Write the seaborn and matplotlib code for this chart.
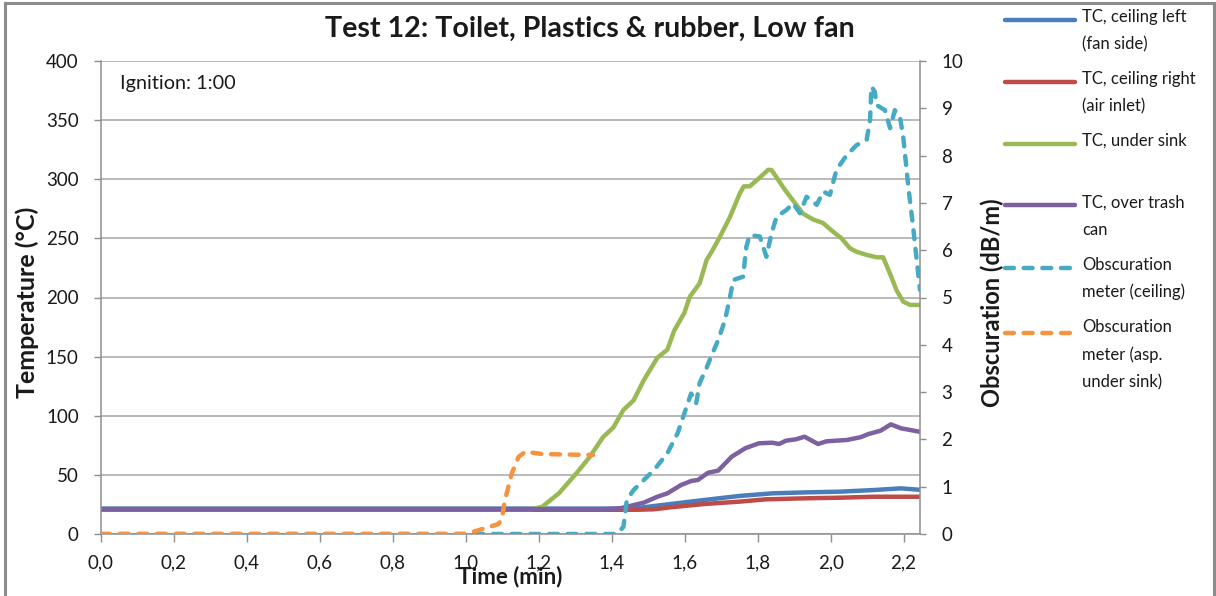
import numpy as np
import pandas as pd
import matplotlib
matplotlib.use("Agg")
import matplotlib.pyplot as plt
import seaborn as sns
from matplotlib.legend_handler import HandlerLine2D
from matplotlib.patches import Rectangle
from matplotlib.ticker import FuncFormatter

# ---------------- data (time in minutes) ----------------
t_ceil_left = [0.0, 1.0, 1.40, 1.4692, 1.5620, 1.6547, 1.7475, 1.8402, 1.9330, 2.0258, 2.1185, 2.1927, 2.2437]
T_ceil_left = [21.5, 21.5, 21.5, 21.9, 25.4, 28.8, 32.1, 34.4, 35.2, 35.8, 37.2, 38.6, 37.4]

t_ceil_right = [0.0, 1.0, 1.42, 1.4692, 1.5156, 1.5620, 1.6547, 1.7475, 1.8217, 1.9330, 2.0258, 2.1185, 2.2437]
T_ceil_right = [20.5, 20.5, 20.5, 20.5, 20.9, 22.6, 25.4, 27.3, 29.3, 30.2, 30.7, 31.5, 31.5]

t_sink = [0.0, 1.0, 1.18, 1.2095, 1.2558, 1.3022, 1.3393, 1.3764, 1.4043, 1.4321, 1.4599,
          1.4877, 1.5249, 1.5527, 1.5712, 1.5991, 1.614, 1.641, 1.66, 1.674, 1.696, 1.724,
          1.751, 1.762, 1.778, 1.797, 1.829, 1.838, 1.875, 1.897, 1.924, 1.952, 1.979,
          2.007, 2.03, 2.053, 2.071, 2.099, 2.126, 2.144, 2.163, 2.181, 2.199, 2.218, 2.245]
T_sink = [21, 21, 21, 23, 34.6, 51, 65, 82, 90, 105, 113,
          130, 149, 156, 172, 187, 200.7, 212, 231.7, 238.7, 251, 268,
          288, 294, 294, 299, 308, 307.8, 291, 282, 271, 266, 263,
          255.6, 250, 241.6, 238.7, 236, 234, 234, 220, 206, 196.5, 193.7, 193.7]

t_trash = [0.0, 1.0, 1.38, 1.4228, 1.4877, 1.5249, 1.5527, 1.5898, 1.6176, 1.6362, 1.6640,
           1.6918, 1.7289, 1.7660, 1.8031, 1.8402, 1.8588, 1.8773, 1.9052, 1.9284, 1.9655,
           1.9886, 2.0443, 2.0814, 2.1046, 2.1371, 2.1649, 2.1927, 2.2437]
T_trash = [21, 21, 21, 21.7, 26.5, 31.5, 34.4, 41.4, 44.8, 45.7, 51.8,
           53.6, 65.4, 72.5, 76.7, 77.2, 76.1, 78.9, 80.1, 82.3, 76.1,
           78.4, 79.5, 81.8, 84.6, 87.4, 92.7, 89.4, 86.5]

t_obs_ceil = [0.0, 1.0, 1.4135, 1.4321, 1.4414, 1.4599, 1.4877, 1.5156, 1.5527, 1.5806, 1.5991,
              1.6176, 1.6315, 1.6408, 1.6594, 1.6686, 1.6918, 1.7104, 1.724, 1.733, 1.76,
              1.769, 1.778, 1.806, 1.824, 1.838, 1.852, 1.879, 1.897, 1.916, 1.934, 1.962,
              1.98, 1.998, 2.016, 2.044, 2.071, 2.099, 2.108, 2.112, 2.121, 2.126, 2.149,
              2.163, 2.176, 2.19, 2.199, 2.213, 2.226, 2.236, 2.245]
O_obs_ceil = [0.0, 0.0, 0.0, 0.15, 0.72, 0.93, 1.14, 1.35, 1.71, 2.13, 2.55,
              2.97, 2.76, 3.19, 3.5, 3.68, 4.1, 4.52, 5.0, 5.37, 5.44,
              6.07, 6.32, 6.29, 5.86, 6.36, 6.71, 6.85, 6.99, 6.78, 7.13, 6.96,
              7.24, 7.17, 7.70, 8.01, 8.22, 8.34, 8.75, 9.46, 9.35, 9.07, 8.96,
              8.58, 8.96, 8.82, 8.40, 7.34, 6.5, 5.79, 5.16]

t_obs_sink = [0.0, 1.0, 1.0518, 1.0889, 1.0982, 1.1074, 1.1260, 1.1445, 1.1631, 1.2095, 1.3486]
O_obs_sink = [0.0, 0.0, 0.12, 0.21, 0.3, 0.72, 1.28, 1.63, 1.74, 1.69, 1.67]

labels = ["TC, ceiling left\n(fan side)", "TC, ceiling right\n(air inlet)", "TC, under sink\n ",
          "TC, over trash\ncan", "Obscuration\nmeter (ceiling)", "Obscuration\nmeter (asp.\nunder sink)"]
colors = ["#4A7EBB", "#BE4B48", "#98B954", "#7D60A0", "#46AAC5", "#F69240"]

title = "Test 12: Toilet, Plastics & rubber, Low fan"
x_ticks = [0.0, 0.2, 0.4, 0.6, 0.8, 1.0, 1.2, 1.4, 1.6, 1.8, 2.0, 2.2]
y_ticks = [0, 50, 100, 150, 200, 250, 300, 350, 400]
y2_ticks = [0, 1, 2, 3, 4, 5, 6, 7, 8, 9, 10]

# ---------------- style ----------------
sns.set_style("white")
plt.rcParams['font.family'] = ['Lato', 'DejaVu Sans']
TXT = "#1a1a1a"
GRAY = "#8E8E8E"

fig = plt.figure(figsize=(12.16, 5.96), dpi=100)
W, H = 1216, 596
ax = fig.add_axes([101 / W, 62 / H, 819 / W, 473 / H])
ax2 = ax.twinx()

LW = 3.2
temp_series = [(t_ceil_left, T_ceil_left), (t_ceil_right, T_ceil_right),
               (t_sink, T_sink), (t_trash, T_trash)]
for i, (tx, ty) in enumerate(temp_series):
    sns.lineplot(x=tx, y=ty, ax=ax, color=colors[i], lw=LW, sort=False,
                 estimator=None, legend=False, solid_capstyle="round", solid_joinstyle="round")

obs_series = [(t_obs_ceil, O_obs_ceil), (t_obs_sink, O_obs_sink)]
for j, (tx, ty) in enumerate(obs_series):
    sns.lineplot(x=tx, y=ty, ax=ax2, color=colors[4 + j], lw=LW, sort=False,
                 estimator=None, legend=False, linestyle=(0, (2.0, 2.2)),
                 dash_capstyle="round", dash_joinstyle="round")

# ---------------- axes ----------------
ax.set_xlim(0, 2.245)
ax.set_ylim(0, 400)
ax2.set_ylim(0, 10)
ax.set_xticks(x_ticks)
ax.set_yticks(y_ticks)
ax2.set_yticks(y2_ticks)
ax.xaxis.set_major_formatter(FuncFormatter(lambda v, p: f"{v:.1f}".replace(".", ",")))

ax.yaxis.grid(True, color="#A5A5A5", lw=1.1)
ax.xaxis.grid(False)
ax2.grid(False)
ax.set_axisbelow(True)

for s in ["left", "bottom", "right"]:
    ax.spines[s].set_color(GRAY)
    ax.spines[s].set_linewidth(1.1)
ax.spines["top"].set_visible(False)
ax.spines["right"].set_visible(False)
for s in ["left", "bottom", "top"]:
    ax2.spines[s].set_visible(False)
ax2.spines["right"].set_visible(True)
ax2.spines["right"].set_color(GRAY)
ax2.spines["right"].set_linewidth(1.1)

ax.tick_params(axis="y", left=True, direction="out", length=5, width=1, color=GRAY,
               pad=11, labelsize=13.5, labelcolor=TXT)
ax.tick_params(axis="x", bottom=True, direction="out", length=5.5, width=1, color=GRAY,
               pad=9, labelsize=13.5, labelcolor=TXT)
ax2.tick_params(axis="y", right=True, direction="out", length=4.5, width=1, color=GRAY,
                pad=11, labelsize=13.5, labelcolor=TXT)

ax.set_ylabel("Temperature (°C)", fontsize=18, fontweight="bold", color=TXT)
ax.yaxis.set_label_coords((39 - 101) / 819, 0.49)
ax2.set_ylabel("Obscuration (dB/m)", fontsize=17, fontweight="bold", color=TXT)
ax2.yaxis.set_label_coords((981 - 101) / 819, 0.49)
ax.set_xlabel("Time (min)", fontsize=16, fontweight="bold", color=TXT)
ax.xaxis.set_label_coords(0.5, (534 - 566) / 473)

ax.text((120 - 101) / 819, (534 - 83) / 473, "Ignition: 1:00", transform=ax.transAxes,
        fontsize=14.3, color=TXT, ha="left", va="center")

fig.text(590 / W, 1 - 29 / H, title, fontsize=20.6, fontweight="bold", color=TXT,
         ha="center", va="center")

# ---------------- legend ----------------
PITCH_PT = 23 * 72 / 100


class FirstLineHandler(HandlerLine2D):
    def __init__(self, shift_pt, **kw):
        super().__init__(**kw)
        self.shift_pt = shift_pt

    def create_artists(self, legend, orig_handle, xdescent, ydescent, width, height,
                       fontsize, trans):
        arts = super().create_artists(legend, orig_handle, xdescent, ydescent, width,
                                      height, fontsize, trans)
        for a in arts:
            a.set_ydata(np.asarray(a.get_ydata(), dtype=float) + self.shift_pt)
        return arts


handles = list(ax.lines) + list(ax2.lines)
hmap = {h: FirstLineHandler((lab.count("\n")) / 2 * PITCH_PT) for h, lab in zip(handles, labels)}
leg = fig.legend(handles, labels, loc="upper left",
                 bbox_to_anchor=(1005 / W, 1 - 9 / H), bbox_transform=fig.transFigure,
                 frameon=False, fontsize=12, handlelength=4.2, handletextpad=0.45,
                 labelspacing=1.14, borderpad=0, borderaxespad=0, handler_map=hmap)
for t in leg.get_texts():
    t.set_linespacing(1.83)
    t.set_color(TXT)
for h in leg.legend_handles:
    h.set_linewidth(LW)

# ---------------- outer frame ----------------
fig.add_artist(Rectangle((5 / W, -0.05), (1214 - 5) / W, 1.05 - 3 / H,
                         transform=fig.transFigure, fill=False, edgecolor="#8C8C8C",
                         lw=2.2, clip_on=False))

fig.savefig("out.png", dpi=100)
